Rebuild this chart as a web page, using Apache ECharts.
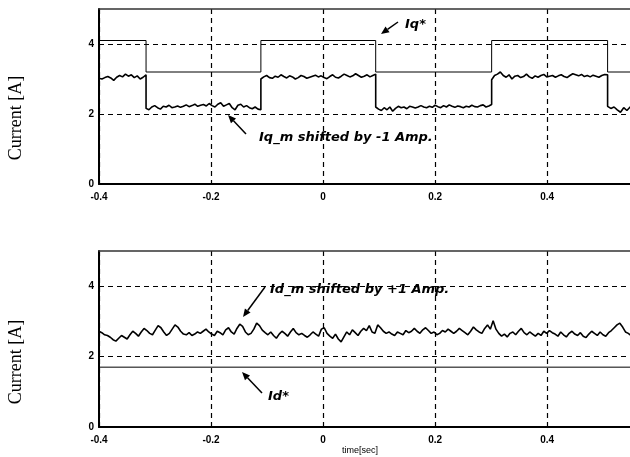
<!DOCTYPE html>
<html>
<head>
<meta charset="utf-8">
<script src="https://cdn.jsdelivr.net/npm/echarts@6/dist/echarts.min.js"></script>
<style>
html,body{margin:0;padding:0;background:#fff;}
#chart{width:630px;height:457px;}
</style>
</head>
<body>
<div id="chart"></div>
<script>
// ---------- data ----------
var xTicks = [-0.4, -0.2, 0, 0.2, 0.4];
var yTicks = [0, 2, 4];
var xVisibleMax = 0.548;

// Iq* reference: switching edges (s) and levels (A) between them
var iqRefEdges = [-0.4, -0.316, -0.111, 0.094, 0.301, 0.508, 0.6];
var iqRefLevels = [4.1, 3.2, 4.1, 3.2, 4.1, 3.2];

// Iq_m (shifted by -1 A), one array per interval between edges
var iqmSeg0 = [3.02, 3.0, 3.04, 3.07, 3.03, 2.96, 3.05, 3.1, 3.06, 3.14, 3.08, 3.12, 3.04, 3.09, 3.0, 3.05, 3.12];
var iqmSeg1 = [2.16, 2.12, 2.2, 2.24, 2.18, 2.14, 2.22, 2.2, 2.25, 2.18, 2.2, 2.23, 2.19, 2.22, 2.26, 2.21, 2.24, 2.28, 2.22, 2.25, 2.27, 2.23, 2.3, 2.24, 2.2, 2.28, 2.32, 2.22, 2.26, 2.3, 2.18, 2.12, 2.25, 2.28, 2.2, 2.24, 2.18, 2.15, 2.2, 2.14, 2.12];
var iqmSeg2 = [3.0, 3.06, 3.1, 3.04, 3.02, 3.08, 3.05, 3.12, 3.07, 3.03, 3.09, 3.06, 3.0, 3.04, 3.1, 3.07, 3.02, 3.05, 3.08, 3.11, 3.06, 3.09, 3.04, 3.01, 3.07, 3.12, 3.05, 3.03, 3.08, 3.14, 3.1, 3.06, 3.09, 3.15, 3.1, 3.05, 3.08, 3.12, 3.06, 3.1, 3.14];
var iqmSeg3 = [2.2, 2.14, 2.1, 2.18, 2.12, 2.2, 2.08, 2.16, 2.22, 2.18, 2.2, 2.15, 2.22, 2.2, 2.17, 2.2, 2.24, 2.2, 2.18, 2.22, 2.19, 2.25, 2.21, 2.18, 2.24, 2.2, 2.26, 2.22, 2.19, 2.23, 2.21, 2.18, 2.22, 2.2, 2.25, 2.21, 2.2, 2.24, 2.26, 2.2, 2.23, 2.27];
var iqmSeg4 = [2.98, 3.1, 3.14, 3.2, 3.1, 3.05, 3.12, 3.0, 3.08, 3.1, 3.04, 3.07, 3.14, 3.06, 3.02, 3.09, 3.05, 3.1, 3.13, 3.06, 3.08, 3.1, 3.05, 3.09, 3.12, 3.07, 3.04, 3.1, 3.15, 3.12, 3.09, 3.13, 3.07, 3.1, 3.06, 3.11, 3.08, 3.05, 3.1, 3.13, 3.12];
var iqmSeg5 = [2.22, 2.16, 2.2, 2.12, 2.05, 2.18, 2.1, 2.2, 2.22, 2.17, 2.2, 2.15, 2.22, 2.18, 2.2, 2.24, 2.2];

// Id* reference
var idRefTimes = [-0.4, 0.6];
var idRefLevels = [1.7, 1.7];

// Id_m (shifted by +1 A), evenly sampled from idmStart to idmEnd
var idmStart = -0.4, idmEnd = 0.56;
var idmValues = [
 2.72, 2.68, 2.62, 2.6, 2.55, 2.48, 2.44, 2.52, 2.6, 2.55, 2.5, 2.62, 2.72, 2.66, 2.58, 2.7, 2.8, 2.74, 2.66, 2.62,
 2.75, 2.88, 2.82, 2.7, 2.6, 2.66, 2.78, 2.9, 2.84, 2.72, 2.64, 2.62, 2.68, 2.6, 2.64, 2.7, 2.66, 2.72, 2.78, 2.7,
 2.64, 2.6, 2.72, 2.68, 2.62, 2.76, 2.82, 2.7, 2.64, 2.8, 2.92, 2.86, 2.7, 2.62, 2.66, 2.78, 2.95, 2.88, 2.75, 2.68,
 2.62, 2.7, 2.6, 2.52, 2.64, 2.72, 2.66, 2.58, 2.7, 2.8, 2.68, 2.62, 2.66, 2.6, 2.55, 2.62, 2.7, 2.64, 2.58, 2.78,
 2.82, 2.66, 2.58, 2.52, 2.64, 2.5, 2.42, 2.56, 2.7, 2.62, 2.76, 2.68, 2.6, 2.72, 2.8, 2.74, 2.88, 2.7, 2.66, 2.9,
 2.82, 2.72, 2.66, 2.7, 2.64, 2.6, 2.7, 2.66, 2.62, 2.74, 2.68, 2.72, 2.8, 2.72, 2.66, 2.76, 2.82, 2.74, 2.66, 2.7,
 2.62, 2.66, 2.74, 2.7, 2.78, 2.72, 2.66, 2.72, 2.8, 2.74, 2.68, 2.62, 2.72, 2.84, 2.76, 2.7, 2.66, 2.8, 2.9, 2.78,
 3.02, 2.78, 2.66, 2.58, 2.64, 2.56, 2.66, 2.7, 2.62, 2.72, 2.8, 2.68, 2.62, 2.7, 2.64, 2.58, 2.66, 2.6, 2.72, 2.66,
 2.74, 2.68, 2.64, 2.58, 2.7, 2.62, 2.56, 2.66, 2.72, 2.64, 2.6, 2.68, 2.58, 2.54, 2.64, 2.72, 2.66, 2.6, 2.7, 2.62,
 2.58, 2.68, 2.74, 2.82, 2.9, 2.95, 2.84, 2.7, 2.66, 2.6, 2.72, 2.8
];

// ---------- build series data ----------
var iqmSegs = [iqmSeg0, iqmSeg1, iqmSeg2, iqmSeg3, iqmSeg4, iqmSeg5];
function buildIqm() {
  var out = [];
  for (var s = 0; s < iqmSegs.length; s++) {
    var a = iqRefEdges[s], b = iqRefEdges[s + 1], seg = iqmSegs[s];
    for (var i = 0; i < seg.length; i++) {
      out.push([a + (b - a) * i / (seg.length - 1), seg[i]]);
    }
  }
  return out;
}
function buildIqRef() {
  var out = [];
  for (var s = 0; s < iqRefLevels.length; s++) {
    out.push([iqRefEdges[s], iqRefLevels[s]]);
    out.push([iqRefEdges[s + 1], iqRefLevels[s]]);
  }
  return out;
}
function buildIdm() {
  var out = [];
  for (var i = 0; i < idmValues.length; i++) {
    out.push([idmStart + (idmEnd - idmStart) * i / (idmValues.length - 1), idmValues[i]]);
  }
  return out;
}
function buildIdRef() {
  return idRefTimes.map(function (t, i) { return [t, idRefLevels[i]]; });
}

// ---------- chart ----------
var chart = echarts.init(document.getElementById('chart'), null, {renderer: 'canvas'});
var labelFont = {color: '#000', fontFamily: 'Liberation Sans, Arial, sans-serif', fontWeight: 'bold', fontSize: 10};

function xAxisCfg(gi) {
  return {
    type: 'value', gridIndex: gi, min: xTicks[0], max: xVisibleMax, interval: 0.2,
    axisLine: {show: true, onZero: false, lineStyle: {color: '#000', width: 2}},
    axisTick: {show: false},
    axisLabel: Object.assign({margin: 8, showMaxLabel: false, formatter: function (v) {
      return Math.abs(v) < 1e-9 ? '0' : (+v).toFixed(1);
    }}, labelFont),
    splitLine: {show: true, showMaxLine: false, lineStyle: {color: '#000', width: 1.2, type: [5, 4]}}
  };
}
function xTopCfg(gi) {
  return {
    type: 'value', gridIndex: gi, position: 'top', min: xTicks[0], max: xVisibleMax,
    axisLine: {show: true, onZero: false, lineStyle: {color: '#333', width: 1.5}},
    axisTick: {show: false}, axisLabel: {show: false}, splitLine: {show: false}
  };
}
function yAxisCfg(gi) {
  return {
    type: 'value', gridIndex: gi, min: yTicks[0], max: 5, interval: 2,
    axisLine: {show: true, onZero: false, lineStyle: {color: '#000', width: 2}},
    axisTick: {show: false},
    axisLabel: Object.assign({margin: 5, showMaxLabel: false}, labelFont),
    splitLine: {show: true, showMaxLine: false, lineStyle: {color: '#000', width: 1.2, type: [5, 4]}}
  };
}

// arrow helper (annotation graphics)
function arrow(x1, y1, x2, y2) {
  var dx = x2 - x1, dy = y2 - y1, L = Math.sqrt(dx * dx + dy * dy);
  var ux = dx / L, uy = dy / L, hl = 8, hw = 3.5;
  var bx = x2 - ux * hl, by = y2 - uy * hl;
  return [
    {type: 'line', shape: {x1: x1, y1: y1, x2: bx, y2: by}, style: {stroke: '#000', lineWidth: 1.5}, z: 100},
    {type: 'polygon', shape: {points: [[x2, y2], [bx - uy * hw, by + ux * hw], [bx + uy * hw, by - ux * hw]]},
     style: {fill: '#000'}, z: 100}
  ];
}
var annFont = 'italic bold 13px "DejaVu Sans", Verdana, sans-serif';
var yNameFont = '18px "Liberation Serif", "Times New Roman", serif';
var graphics = [
  {type: 'text', x: 16, y: 118, rotation: Math.PI / 2,
   style: {text: 'Current [A]', font: yNameFont, fill: '#000', textAlign: 'center', textVerticalAlign: 'middle'}},
  {type: 'text', x: 16, y: 362, rotation: Math.PI / 2,
   style: {text: 'Current [A]', font: yNameFont, fill: '#000', textAlign: 'center', textVerticalAlign: 'middle'}},
  {type: 'text', x: 405, y: 25, style: {text: 'Iq*', font: annFont, fill: '#000', textVerticalAlign: 'middle'}, z: 100},
  {type: 'text', x: 259, y: 138, style: {text: 'Iq_m shifted by -1 Amp.', font: annFont, fill: '#000', textVerticalAlign: 'middle'}, z: 100},
  {type: 'text', x: 270, y: 290, style: {text: 'Id_m shifted by +1 Amp.', font: annFont, fill: '#000', textVerticalAlign: 'middle'}, z: 100},
  {type: 'text', x: 268, y: 397, style: {text: 'Id*', font: annFont, fill: '#000', textVerticalAlign: 'middle'}, z: 100},
  {type: 'text', x: 360, y: 451, style: {text: 'time[sec]', font: '9px "Liberation Sans", Arial, sans-serif', fill: '#000', textAlign: 'center', textVerticalAlign: 'middle'}}
].concat(arrow(398, 22, 381, 34))
 .concat(arrow(246, 134, 228, 115))
 .concat(arrow(265, 287, 243, 317))
 .concat(arrow(262, 393, 242, 372));

chart.setOption({
  animation: false,
  backgroundColor: '#fff',
  grid: [
    {left: 99, top: 9, right: 0, height: 175, show: false},
    {left: 99, top: 251, right: 0, height: 176, show: false}
  ],
  xAxis: [xAxisCfg(0), xAxisCfg(1), xTopCfg(0), xTopCfg(1)],
  yAxis: [yAxisCfg(0), yAxisCfg(1)],
  series: [
    {name: 'Iq*', type: 'line', xAxisIndex: 0, yAxisIndex: 0, data: buildIqRef(), showSymbol: false,
     lineStyle: {color: '#000', width: 1}, z: 3},
    {name: 'Iq_m', type: 'line', xAxisIndex: 0, yAxisIndex: 0, data: buildIqm(), showSymbol: false,
     lineStyle: {color: '#000', width: 1.6}, z: 4},
    {name: 'Id*', type: 'line', xAxisIndex: 1, yAxisIndex: 1, data: buildIdRef(), showSymbol: false,
     lineStyle: {color: '#000', width: 1}, z: 3},
    {name: 'Id_m', type: 'line', xAxisIndex: 1, yAxisIndex: 1, data: buildIdm(), showSymbol: false,
     lineStyle: {color: '#000', width: 1.6}, z: 4}
  ],
  graphic: graphics
});
</script>
</body>
</html>
